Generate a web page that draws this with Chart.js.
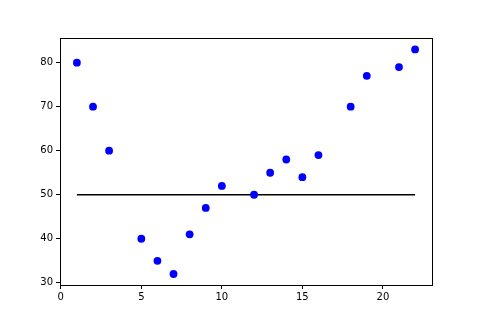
<!DOCTYPE html>
<html>
<head>
<meta charset="utf-8">
<script src="https://cdn.jsdelivr.net/npm/chart.js@4"></script>
<style>
  html, body { margin: 0; padding: 0; background: #fff; }
  #wrap { width: 480px; height: 320px; }
</style>
</head>
<body>
<div id="wrap"><canvas id="myChart" width="480" height="320"></canvas></div>
<script>
const xValues = [1, 2, 3, 5, 6, 7, 8, 9, 10, 12, 13, 14, 15, 16, 18, 19, 21, 22];
const yValues = [80, 70, 60, 40, 35, 32, 41, 47, 52, 50, 55, 58, 54, 59, 70, 77, 79, 83];
const lineX = [1, 22];
const lineY = [50, 50];
const xTicks = [0, 5, 10, 15, 20];
const yTicks = [30, 40, 50, 60, 70, 80];

const frame = {
    id: 'frame',
    afterDatasetsDraw(chart) {
        const a = chart.chartArea;
        const ctx = chart.ctx;
        ctx.save();
        ctx.strokeStyle = '#000';
        ctx.lineWidth = 1;
        ctx.strokeRect(Math.round(a.left) + 0.5, Math.round(a.top) + 0.5,
            Math.round(a.right - a.left), Math.round(a.bottom - a.top));
        ctx.restore();
    }
};

const tickFont = { family: 'DejaVu Sans', size: 10 };

const config = {
    data: {
        datasets: [{
            type: 'scatter',
            data: xValues.map((x, i) => ({ x: x, y: yValues[i] })),
            backgroundColor: '#0000ff',
            borderWidth: 0,
            pointRadius: 3.9,
            pointHoverRadius: 3.9
        }, {
            type: 'line',
            data: lineX.map((x, i) => ({ x: x, y: lineY[i] })),
            borderColor: '#000',
            borderWidth: 1.5,
            pointRadius: 0,
            fill: false
        }]
    },
    options: {
        responsive: false,
        animation: false,
        layout: { padding: { left: 0, top: 38, right: 48, bottom: 0 } },
        plugins: {
            legend: { display: false },
            tooltip: { enabled: false }
        },
        scales: {
            x: {
                type: 'linear',
                min: -0.05,
                max: 23.05,
                afterBuildTicks: s => { s.ticks = xTicks.map(v => ({ value: v })); },
                afterFit: s => { s.height = 35; },
                grid: { drawOnChartArea: false, color: '#000', tickLength: 4 },
                border: { display: false },
                ticks: { color: '#000', font: tickFont, padding: 2, maxRotation: 0 }
            },
            y: {
                type: 'linear',
                min: 29.5,
                max: 85.6,
                afterBuildTicks: s => { s.ticks = yTicks.map(v => ({ value: v })); },
                afterFit: s => { s.width = 60; },
                grid: { drawOnChartArea: false, color: '#000', tickLength: 4 },
                border: { display: false },
                ticks: { color: '#000', font: tickFont, padding: 3 }
            }
        }
    },
    plugins: [frame]
};

const myChart = new Chart(document.getElementById('myChart'), config);
</script>
</body>
</html>
